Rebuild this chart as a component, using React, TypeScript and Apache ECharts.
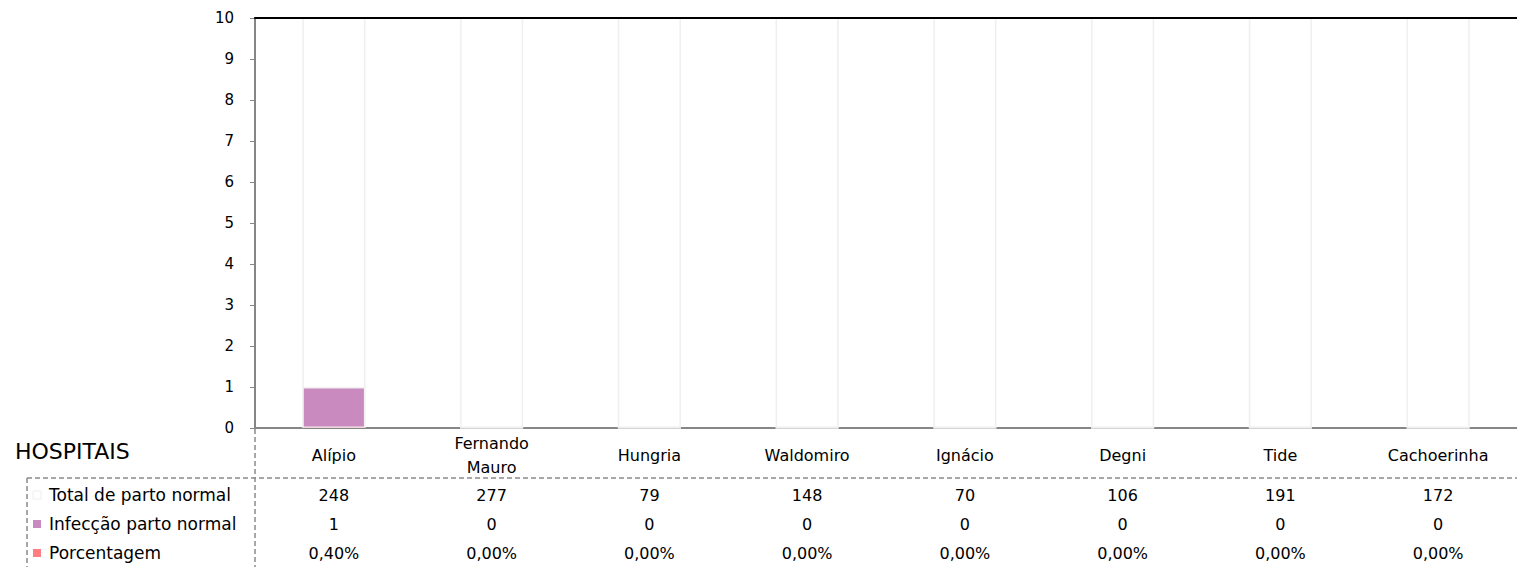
import React, { useEffect, useRef } from "react";
import * as echarts from "echarts";

const categories = ["Alípio", "Fernando\nMauro", "Hungria", "Waldomiro", "Ignácio", "Degni", "Tide", "Cachoerinha"];
const totalPartoNormal = [248, 277, 79, 148, 70, 106, 191, 172];
const infeccaoPartoNormal = [1, 0, 0, 0, 0, 0, 0, 0];
const porcentagem = [0.004, 0, 0, 0, 0, 0, 0, 0];
const porcentagemLabels = ["0,40%", "0,00%", "0,00%", "0,00%", "0,00%", "0,00%", "0,00%", "0,00%"];
const rowNames = ["Total de parto normal", "Infecção parto normal", "Porcentagem"];
const rowColors = ["#ffffff", "#c98bbf", "#ff7c80"];
const tableTitle = "HOSPITAIS";
const yMin = 0;
const yMax = 10;
const yInterval = 1;

const FONT = "DejaVu Sans";

export default function App() {
  const ref = useRef<HTMLDivElement>(null);
  useEffect(() => {
    if (!ref.current) return;
    const chart = echarts.init(ref.current, null, { renderer: "svg" });
    chart.setOption({
      animation: false,
      textStyle: { fontFamily: FONT },
      grid: { left: 255, right: 0, top: 18, bottom: 139, containLabel: false },
      xAxis: [
        {
          type: "category",
          data: categories,
          position: "bottom",
          axisLine: { lineStyle: { color: "#868686", width: 2 } },
          axisTick: { show: false },
          axisLabel: {
            margin: 27,
            verticalAlign: "middle",
            lineHeight: 24,
            fontSize: 16,
            color: "#000",
            fontFamily: FONT,
            interval: 0,
          },
        },
        {
          type: "category",
          data: categories,
          position: "top",
          z: 10,
          axisLine: { lineStyle: { color: "#000", width: 2 } },
          axisTick: { show: false },
          axisLabel: { show: false },
        },
      ],
      yAxis: {
        type: "value",
        min: yMin,
        max: yMax,
        interval: yInterval,
        axisLine: { show: true, lineStyle: { color: "#868686", width: 2 } },
        axisTick: { show: true, length: 5, lineStyle: { color: "#868686", width: 1 } },
        splitLine: { show: false },
        axisLabel: { fontSize: 15, color: "#000", margin: 21, fontFamily: FONT },
      },
      series: [
        {
          name: rowNames[0],
          type: "bar",
          data: totalPartoNormal,
          barWidth: "40%",
          barGap: "-100%",
          itemStyle: { color: "#ffffff", borderColor: "#efefef", borderWidth: 1.5 },
          clip: true,
          z: 2,
        },
        {
          name: rowNames[1],
          type: "bar",
          data: infeccaoPartoNormal,
          barWidth: "40%",
          barGap: "-100%",
          itemStyle: { color: rowColors[1], borderColor: "#f0f0f0", borderWidth: 1.5 },
          clip: true,
          z: 3,
        },
        {
          name: rowNames[2],
          type: "bar",
          data: porcentagem,
          barWidth: "40%",
          barGap: "-100%",
          itemStyle: { color: rowColors[2] },
          clip: true,
          z: 4,
        },
      ],
    });

    const rowY = [495, 524, 553];
    const rowValues: string[][] = [
      totalPartoNormal.map(String),
      infeccaoPartoNormal.map(String),
      porcentagemLabels,
    ];
    const dash = { stroke: "#8a8a8a", lineWidth: 1.5, lineDash: [5, 3] };
    const graphics: any[] = [
      {
        type: "text",
        x: 15,
        y: 451,
        style: { text: tableTitle, fontSize: 22, fill: "#000", fontFamily: FONT, verticalAlign: "middle", align: "left" },
      },
      { type: "line", shape: { x1: 255, y1: 429, x2: 255, y2: 567 }, style: dash, silent: true },
      { type: "line", shape: { x1: 27, y1: 478, x2: 27, y2: 567 }, style: dash, silent: true },
      { type: "line", shape: { x1: 27, y1: 478, x2: 1517, y2: 478 }, style: dash, silent: true },
    ];
    rowNames.forEach((name, r) => {
      graphics.push({
        type: "rect",
        shape: { x: 33, y: rowY[r] - 4, width: 8, height: 8 },
        style: { fill: rowColors[r], stroke: r === 0 ? "#eeeeee" : null, lineWidth: 1 },
        silent: true,
      });
      graphics.push({
        type: "text",
        x: 49,
        y: rowY[r],
        style: { text: name, fontSize: 17, fill: "#000", fontFamily: FONT, verticalAlign: "middle", align: "left" },
        silent: true,
      });
      categories.forEach((c, i) => {
        const px = chart.convertToPixel({ xAxisIndex: 0 }, c) as number;
        graphics.push({
          type: "text",
          x: px,
          y: rowY[r],
          style: { text: rowValues[r][i], fontSize: 16, fill: "#000", fontFamily: FONT, verticalAlign: "middle", align: "center" },
          silent: true,
        });
      });
    });
    chart.setOption({ graphic: graphics });

    return () => chart.dispose();
  }, []);
  return <div ref={ref} style={{ position: "absolute", left: 0, top: 0, width: 1517, height: 567 }} />;
}
